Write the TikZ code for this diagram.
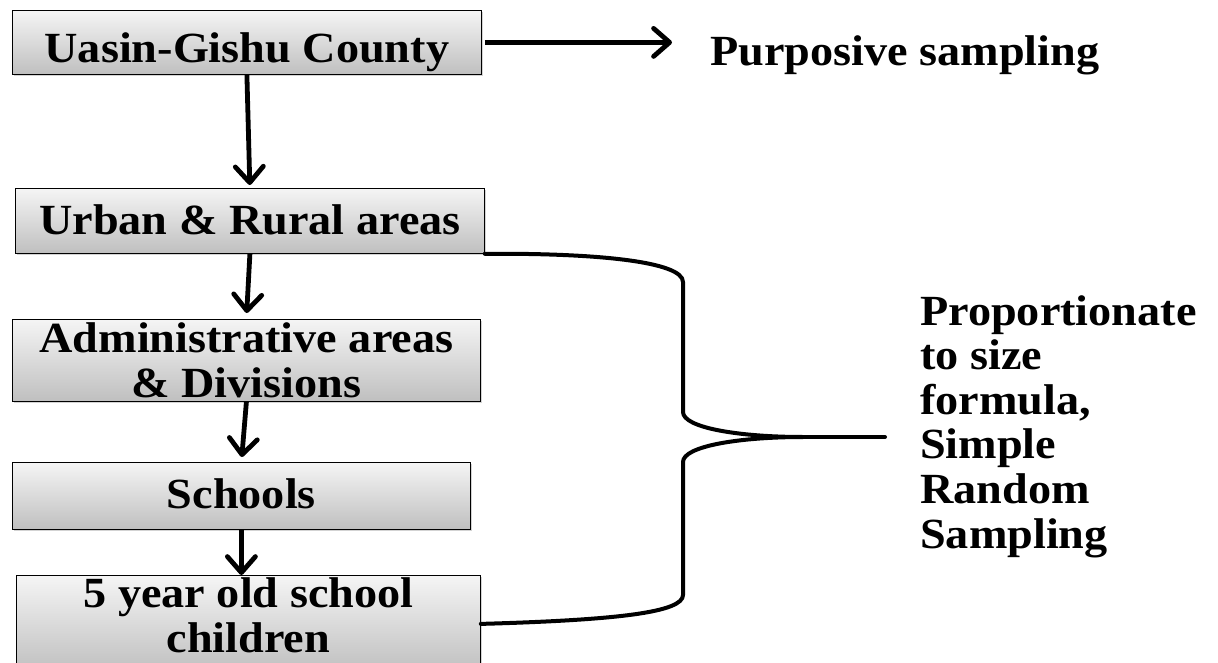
\documentclass[tikz,border=0pt]{standalone}
\usepackage{fontspec}
\setmainfont[FakeStretch=1.075]{Liberation Serif}
\usetikzlibrary{positioning, arrows.meta, shadows}

\begin{document}
\begin{tikzpicture}[x=1pt, y=-1pt,
  stage/.style={draw=black, line width=0.8pt, top color=black!4, bottom color=black!25,
    drop shadow={shadow xshift=2pt, shadow yshift=-2pt, opacity=0.35},
    anchor=north west, inner sep=0pt, align=center,
    font=\fontsize{43}{45}\selectfont\bfseries},
  bigtext/.style={inner sep=0pt, align=left, font=\fontsize{43}{44.6}\selectfont\bfseries},
  flow/.style={line width=4.8pt, -{Straight Barb[length=16pt, width=28pt, round]}},
  brace/.style={line width=4pt, line join=round, line cap=round}]
\useasboundingbox (0,0) rectangle (1218,663);
% sampling stages
\node[stage, minimum width=469pt, minimum height=64pt, text height=49pt, text depth=9pt] (county) at (12,10) {Uasin-Gishu County};
\node[stage, minimum width=469pt, minimum height=65pt, text height=36pt, text depth=9pt] (areas) at (15,188) {Urban \& Rural areas};
\node[stage, minimum width=468pt, minimum height=82pt, text height=78pt, text depth=4pt] (admin) at (12,319) {Administrative areas\\ \& Divisions};
\node[stage, minimum width=458pt, minimum height=67pt, text height=34pt, text depth=9pt] (schools) at (12,462) {Schools};
\node[stage, minimum width=464pt, minimum height=97pt, text height=76pt, text depth=19pt] (children) at (16,575) {5 year old school\\ children};
% methods
\node[bigtext, anchor=base west] (purp) at (710,66) {Purposive sampling};
\node[bigtext, anchor=base west] (method) at (920,548) {Proportionate\\ to size\\ formula,\\ Simple\\ Random\\ Sampling};
% arrows
\draw[flow, shorten <=3pt, shorten >=38pt] (county.east) -- (county.east -| purp.west);
\draw[flow, shorten >=3pt] (county.south) -- (areas.north);
\draw[flow, shorten >=6pt] (areas.south) -- (admin.north);
\draw[flow, shorten >=5pt] (admin.south) -- (schools.north);
\draw[flow] (schools.south) -- (schools.south |- children.north);
% brace
\coordinate (knee) at (803,437);
\coordinate (tip) at (885,437);
\draw[brace] (areas.south east) .. controls (600,253) and (683,262) .. (683,282)
  -- (683,412) .. controls (683,428) and (740,437) .. (knee)
  .. controls (740,437) and (683,446) .. (683,462)
  -- (683,595) .. controls (683,612) and (620,620) .. (children.east);
\draw[brace] (knee) -- (tip);
\end{tikzpicture}
\end{document}
